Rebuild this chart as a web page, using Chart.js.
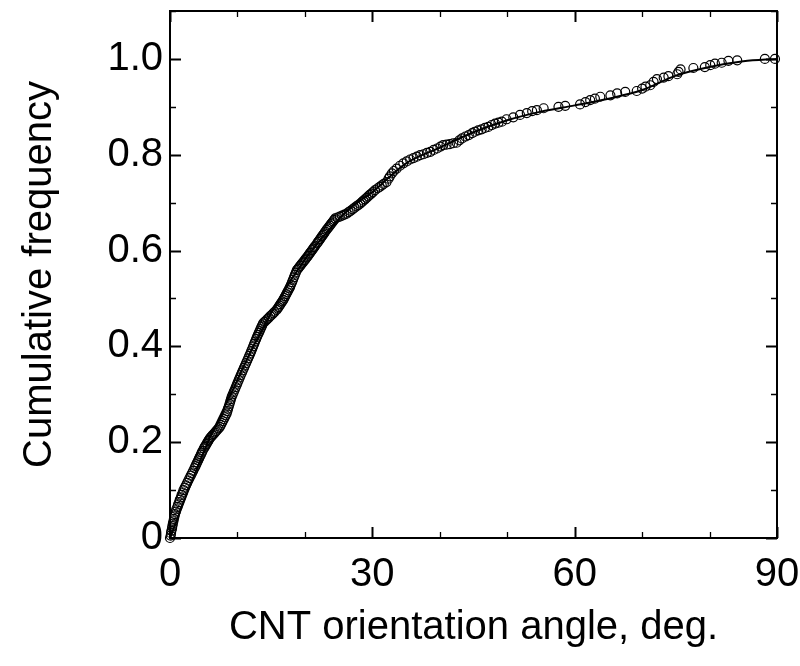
<!DOCTYPE html>
<html><head><meta charset="utf-8">
<script src="https://cdn.jsdelivr.net/npm/chart.js@4.4.1/dist/chart.umd.min.js"></script>
<style>html,body{margin:0;padding:0;background:#fff}#wrap{width:800px;height:666px}</style>
</head><body><div id="wrap"><canvas id="c" width="800" height="666"></canvas></div>
<script>
// Measured points: orientation angle (deg) and cumulative frequency
const angleDeg = [
0,0.1,0.15,0.2,0.3,0.35,0.42,0.5,0.58,0.66,0.72,
0.85,0.93,1.1,1.2,1.36,1.45,1.63,1.72,1.9,2.0,
2.18,2.36,2.54,2.71,2.89,3.07,3.25,3.43,
3.63,3.77,3.9,4.03,4.17,4.3,4.43,4.57,4.7,4.83,
5.02,5.15,5.27,5.4,5.52,5.65,5.77,5.9,
6.09,6.28,6.46,6.65,6.84,7.03,7.21,7.4,
7.54,7.69,7.83,7.97,8.11,8.26,8.4,
8.51,8.61,8.72,8.83,8.93,9.04,9.15,
9.3,9.45,9.6,9.75,9.9,10.04,10.19,10.34,
10.49,10.65,10.8,10.96,11.11,11.27,11.43,11.59,11.74,11.9,
12.04,12.19,12.33,12.47,12.61,12.76,12.9,
13.03,13.16,13.29,13.41,13.54,13.67,13.8,
14.01,14.23,14.44,14.66,14.87,15.09,15.3,15.51,15.8,
15.94,16.09,16.23,16.37,16.51,16.66,16.8,
16.95,17.09,17.24,17.39,17.54,17.69,17.8,
17.94,18.09,18.23,18.37,18.51,18.66,18.8,
18.97,19.13,19.3,19.47,19.63,19.8,19.97,20.13,20.3,
20.46,20.61,20.77,20.92,21.08,21.23,21.39,21.54,21.8,
21.95,22.1,22.25,22.4,22.55,22.7,22.85,23.0,23.2,
23.36,23.52,23.69,23.85,24.01,24.18,24.34,24.5,
24.84,25.18,25.52,25.86,26.2,
26.49,26.77,27.06,27.34,27.63,27.91,28.2,
28.44,28.67,28.91,29.14,29.38,29.61,29.85,30.09,30.4,
30.8,31.1,31.4,31.7,32.1,32.4,32.6,32.9,33.2,33.6,34.1,34.6,35.1,35.6,36.1,36.6,37.1,37.6,38.1,38.6,39.1,39.6,40.1,40.5,41.0,41.5,42.0,42.5,42.9,43.3,43.8,44.3,44.8,45.2,45.7,46.2,46.7,47.2,47.7,48.2,48.7,49.2,
49.9,50.9,51.9,52.9,53.7,54.4,55.4,57.6,58.6,60.8,61.6,62.3,63.0,63.8,65.3,66.3,67.5,69.2,70.0,70.5,71.2,71.7,72.2,73.2,73.9,75.2,75.4,75.7,77.6,79.3,80.1,80.8,81.8,82.8,84.1,88.2,89.7
];
const cumFreq = [
0,0.005,0.01,0.015,0.02,0.025,0.03,0.035,0.04,0.045,0.05,
0.055,0.06,0.065,0.07,0.075,0.08,0.085,0.09,0.095,0.1,
0.105,0.11,0.115,0.12,0.125,0.13,0.135,0.14,
0.146,0.15,0.154,0.158,0.162,0.166,0.17,0.174,0.178,0.182,
0.187,0.19,0.193,0.196,0.199,0.202,0.205,0.208,
0.211,0.214,0.217,0.22,0.223,0.226,0.229,0.232,
0.236,0.24,0.244,0.248,0.252,0.256,0.26,
0.265,0.27,0.275,0.28,0.285,0.29,0.295,
0.3,0.305,0.31,0.315,0.32,0.325,0.33,0.335,
0.34,0.345,0.35,0.355,0.36,0.365,0.37,0.375,0.38,0.385,
0.39,0.395,0.4,0.405,0.41,0.415,0.42,
0.424,0.428,0.432,0.436,0.44,0.444,0.448,
0.451,0.454,0.457,0.46,0.463,0.466,0.469,0.472,0.476,
0.479,0.482,0.485,0.488,0.491,0.494,0.497,
0.501,0.505,0.509,0.513,0.517,0.521,0.524,
0.529,0.534,0.539,0.544,0.549,0.554,0.559,
0.562,0.565,0.568,0.571,0.574,0.577,0.58,0.583,0.586,
0.589,0.592,0.595,0.598,0.601,0.604,0.607,0.61,0.615,
0.618,0.621,0.624,0.627,0.63,0.633,0.636,0.639,0.643,
0.646,0.649,0.652,0.655,0.658,0.661,0.664,0.667,
0.669,0.671,0.673,0.675,0.677,
0.68,0.683,0.686,0.689,0.692,0.695,0.698,
0.701,0.704,0.707,0.71,0.713,0.716,0.719,0.722,0.726,
0.73,0.733,0.736,0.739,0.743,0.75,0.755,0.761,0.766,0.771,0.777,0.782,0.786,0.79,0.793,0.796,0.799,0.801,0.804,0.806,0.81,0.813,0.817,0.82,0.821,0.822,0.824,0.825,0.83,0.834,0.838,0.841,0.845,0.848,0.851,0.853,0.856,0.858,0.862,0.865,0.867,0.869,
0.874,0.878,0.883,0.887,0.891,0.893,0.897,0.9,0.902,0.905,0.91,0.914,0.917,0.921,0.924,0.928,0.931,0.933,0.938,0.942,0.945,0.952,0.958,0.961,0.964,0.968,0.973,0.978,0.981,0.983,0.987,0.99,0.992,0.996,0.997,1.0,1.0
];
// Fitted curve
const fitAngle = [0,3,6,9,12,15,18,21,24,27,30,35,40,45,50,55,60,65,70,75,80,85,90];
const fitFreq  = [0,0.11,0.212,0.3,0.39,0.47,0.54,0.6,0.65,0.692,0.722,0.782,0.815,0.847,0.872,0.89,0.903,0.917,0.935,0.965,0.983,0.995,1.0];

const xMinorTicks = [0,10,20,30,40,50,60,70,80,90];
const xMajorTicks = [0,30,60,90];
const yMinorTicks = [0,0.1,0.2,0.3,0.4,0.5,0.6,0.7,0.8,0.9,1.0,1.1];
const yMajorTicks = [0,0.2,0.4,0.6,0.8,1.0];
const yTickLabels = ['0','0.2','0.4','0.6','0.8','1.0'];
const xTitle = 'CNT orientation angle, deg.';
const yTitle = 'Cumulative frequency';

const FONT = "'Liberation Sans', Arial, sans-serif";
const FS = 40;

const scatterPts = angleDeg.map((a,i)=>({x:a, y:cumFreq[i]}));
const fitPts = fitAngle.map((a,i)=>({x:a, y:fitFreq[i]}));

const framePlugin = {
  id: 'frame',
  afterDatasetsDraw(chart) {
    const {ctx, chartArea: a, scales: {x, y}} = chart;
    ctx.save();
    ctx.strokeStyle = '#000';
    const isMajX = v => xMajorTicks.some(m => Math.abs(m - v) < 1e-6);
    const isMajY = v => yMajorTicks.some(m => Math.abs(m - v) < 1e-6);
    xMinorTicks.forEach(v => {
      const px = Math.round(x.getPixelForValue(v)) + 0.5;
      const L = isMajX(v) ? 11 : 6;
      ctx.lineWidth = isMajX(v) ? 2 : 1.3;
      ctx.beginPath();
      ctx.moveTo(px, a.bottom); ctx.lineTo(px, a.bottom - L);
      ctx.moveTo(px, a.top); ctx.lineTo(px, a.top + L);
      ctx.stroke();
    });
    yMinorTicks.forEach(v => {
      const py = Math.round(y.getPixelForValue(v)) + 0.5;
      const L = isMajY(v) ? 11 : 6;
      ctx.lineWidth = isMajY(v) ? 2 : 1.3;
      ctx.beginPath();
      ctx.moveTo(a.left, py); ctx.lineTo(a.left + L, py);
      ctx.moveTo(a.right, py); ctx.lineTo(a.right - L, py);
      ctx.stroke();
    });
    ctx.lineWidth = 2;
    ctx.strokeRect(a.left, a.top, a.right - a.left, a.bottom - a.top);
    ctx.restore();
  }
};

new Chart(document.getElementById('c'), {
  type: 'scatter',
  data: {
    datasets: [
      {
        label: 'data',
        data: scatterPts,
        showLine: false,
        pointStyle: 'circle',
        pointRadius: 4.5,
        pointBorderWidth: 1.2,
        pointBorderColor: '#000',
        pointBackgroundColor: 'rgba(0,0,0,0)',
        clip: false
      },
      {
        label: 'fit',
        data: fitPts,
        showLine: true,
        pointRadius: 0,
        borderColor: '#000',
        borderWidth: 2,
        cubicInterpolationMode: 'monotone',
        fill: false
      }
    ]
  },
  plugins: [framePlugin],
  options: {
    responsive: false,
    animation: false,
    devicePixelRatio: 1,
    layout: {padding: {top: 11, right: 23, left: 0, bottom: 0}},
    plugins: {legend: {display: false}, tooltip: {enabled: false}},
    scales: {
      x: {
        type: 'linear', min: 0, max: 90,
        afterBuildTicks: s => { s.ticks = xMajorTicks.map(v => ({value: v})); },
        afterFit: s => { s.height = 128; s.paddingLeft = 0; s.paddingRight = 0; },
        grid: {display: false, drawTicks: false},
        border: {display: false},
        ticks: {color: '#000', font: {family: FONT, size: FS}, padding: 13, maxRotation: 0, autoSkip: false,
                callback: v => String(v)},
        title: {display: true, text: xTitle, color: '#000', font: {family: FONT, size: FS}, padding: {top: 0, bottom: 14}}
      },
      y: {
        type: 'linear', min: 0, max: 1.1,
        afterBuildTicks: s => { s.ticks = yMajorTicks.map(v => ({value: v})); },
        afterFit: s => { s.width = 170; s.paddingTop = 0; s.paddingBottom = 0; },
        grid: {display: false, drawTicks: false},
        border: {display: false},
        ticks: {color: '#000', font: {family: FONT, size: FS}, padding: 7, autoSkip: false,
                callback: (v, i) => yTickLabels[i]},
        title: {display: true, text: yTitle, color: '#000', font: {family: FONT, size: FS}, padding: {top: 16, bottom: 0}}
      }
    }
  }
});
</script>
</body></html>
